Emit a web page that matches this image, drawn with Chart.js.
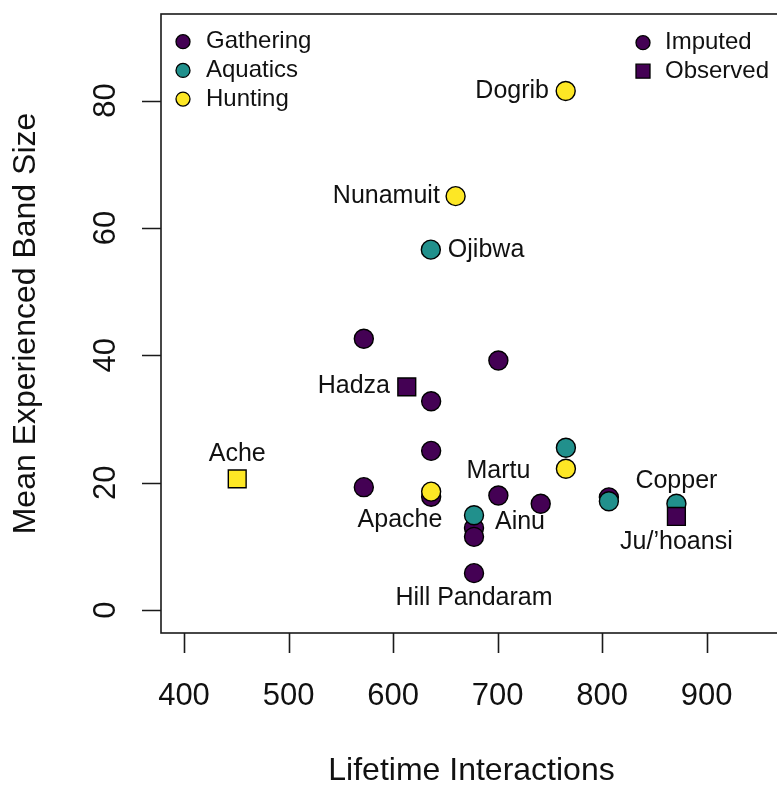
<!DOCTYPE html>
<html>
<head>
<meta charset="utf-8">
<script src="https://cdn.jsdelivr.net/npm/chart.js@4"></script>
<style>
  html, body { margin: 0; padding: 0; background: #fff; overflow: hidden; }
  canvas { display: block; }
</style>
</head>
<body>
<canvas id="chart" width="800" height="785" style="width:800px;height:785px"></canvas>
<script>
// groups and symbol legend
const groups = ['Gathering', 'Aquatics', 'Hunting'];
const sources = ['Imputed', 'Observed'];

// imputed societies (circles)
const gatheringX = [572, 700.7, 636.4, 636.4, 572, 636.4, 700.7, 741.2, 806.4, 677.4, 677.4, 677.4];
const gatheringY = [42.6, 39.2, 32.8, 25.0, 19.3, 17.8, 18.0, 16.7, 17.7, 12.9, 11.5, 5.8];
const aquaticsX = [636.1, 765.3, 806.4, 871, 677.4];
const aquaticsY = [56.6, 25.5, 17.1, 16.7, 14.9];
const huntingX = [765.1, 659.8, 636.4, 765.3];
const huntingY = [81.5, 65.0, 18.6, 22.2];

// observed societies (squares)
const observedX = [613.1, 871, 450.9];
const observedY = [35.05, 14.7, 20.6];
const observedGroup = ['Gathering', 'Gathering', 'Hunting'];

// society names, anchored in data units
const labelNames = ['Dogrib', 'Nunamuit', 'Ojibwa', 'Hadza', 'Ache', 'Martu', 'Apache', 'Ainu', 'Copper', 'Ju/\u2019hoansi', 'Hill Pandaram'];
const labelX = [749.1, 644.7, 652.4, 597, 450.9, 700.7, 606.6, 721.4, 871, 871, 677.4];
const labelY = [81.5, 65.0, 56.6, 35.2, 24.5, 21.8, 14.2, 13.8, 20.2, 10.6, 1.9];
const labelAlign = ['right', 'right', 'left', 'right', 'center', 'center', 'center', 'center', 'center', 'center', 'center'];

// axis ticks
const xTicks = [400, 500, 600, 700, 800, 900];
const yTicks = [0, 20, 40, 60, 80];

const colors = { Gathering: '#440154', Aquatics: '#21908C', Hunting: '#FDE725' };
const FONT = '"Liberation Sans", Arial, Helvetica, sans-serif';

function pts(xs, ys) {
  return xs.map((x, i) => ({ x: x, y: ys[i] }));
}

function circleSet(name, xs, ys, order) {
  return {
    label: name,
    data: pts(xs, ys),
    pointStyle: 'circle',
    pointRadius: 9.5,
    pointHoverRadius: 9.5,
    backgroundColor: colors[name],
    borderColor: '#000',
    borderWidth: 1.4,
    order: order
  };
}

const rPlot = {
  id: 'rPlot',
  afterDraw(chart) {
    const ctx = chart.ctx;
    const a = chart.chartArea;
    const xs = chart.scales.x, ys = chart.scales.y;
    ctx.save();
    ctx.strokeStyle = '#1a1a1a';
    ctx.lineWidth = 1.6;
    ctx.strokeRect(a.left, a.top, a.right - a.left, a.bottom - a.top);

    // ticks
    ctx.beginPath();
    xTicks.forEach(v => {
      const px = Math.round(xs.getPixelForValue(v)) + 0.5;
      ctx.moveTo(px, a.bottom);
      ctx.lineTo(px, a.bottom + 20);
    });
    yTicks.forEach(v => {
      const py = Math.round(ys.getPixelForValue(v)) + 0.5;
      ctx.moveTo(a.left, py);
      ctx.lineTo(a.left - 19, py);
    });
    ctx.stroke();

    ctx.fillStyle = '#111';
    ctx.font = '31px ' + FONT;
    ctx.textAlign = 'center';
    ctx.textBaseline = 'alphabetic';
    xTicks.forEach(v => {
      ctx.fillText(String(v), xs.getPixelForValue(v), 705);
    });
    yTicks.forEach(v => {
      ctx.save();
      ctx.translate(115, ys.getPixelForValue(v));
      ctx.rotate(-Math.PI / 2);
      ctx.fillText(String(v), 0, 0);
      ctx.restore();
    });

    // axis titles
    ctx.font = '32px ' + FONT;
    ctx.fillText('Lifetime Interactions', (a.left + a.right) / 2, 780);
    ctx.save();
    ctx.translate(35, (a.top + a.bottom) / 2);
    ctx.rotate(-Math.PI / 2);
    ctx.fillText('Mean Experienced Band Size', 0, 0);
    ctx.restore();

    // society labels
    ctx.font = '25px ' + FONT;
    ctx.textBaseline = 'middle';
    labelNames.forEach((n, i) => {
      ctx.textAlign = labelAlign[i];
      ctx.fillText(n, xs.getPixelForValue(labelX[i]), ys.getPixelForValue(labelY[i]));
    });

    // legends
    ctx.font = '24px ' + FONT;
    ctx.textAlign = 'left';
    ctx.lineWidth = 1.3;
    ctx.strokeStyle = '#000';
    groups.forEach((g, i) => {
      const y = 41.7 + i * 28.7;
      ctx.beginPath();
      ctx.arc(183, y, 7, 0, Math.PI * 2);
      ctx.fillStyle = colors[g];
      ctx.fill();
      ctx.stroke();
      ctx.fillStyle = '#111';
      ctx.fillText(g, 206, y);
    });
    sources.forEach((s, i) => {
      const y = 42.7 + i * 28.5;
      ctx.fillStyle = colors.Gathering;
      ctx.beginPath();
      if (i === 0) {
        ctx.arc(643, y, 7, 0, Math.PI * 2);
      } else {
        ctx.rect(636, y - 7, 14, 14);
      }
      ctx.fill();
      ctx.stroke();
      ctx.fillStyle = '#111';
      ctx.fillText(s, 665, y);
    });
    ctx.restore();
  }
};

new Chart(document.getElementById('chart'), {
  type: 'scatter',
  data: {
    datasets: [
      circleSet('Gathering', gatheringX, gatheringY, 4),
      circleSet('Aquatics', aquaticsX, aquaticsY, 3),
      circleSet('Hunting', huntingX, huntingY, 2),
      {
        label: 'Observed',
        data: pts(observedX, observedY),
        pointStyle: 'rect',
        pointRadius: 12.6,
        pointHoverRadius: 12.6,
        backgroundColor: observedGroup.map(g => colors[g]),
        borderColor: '#000',
        borderWidth: 1.4,
        order: 1
      }
    ]
  },
  options: {
    responsive: false,
    animation: false,
    devicePixelRatio: 1,
    layout: { padding: { left: 161, right: 18, top: 12, bottom: 152 } },
    scales: {
      x: { type: 'linear', min: 378, max: 972, display: false },
      y: { type: 'linear', min: -3.6, max: 93.6, display: false }
    },
    plugins: {
      legend: { display: false },
      tooltip: { enabled: false }
    }
  },
  plugins: [rPlot]
});
</script>
</body>
</html>
